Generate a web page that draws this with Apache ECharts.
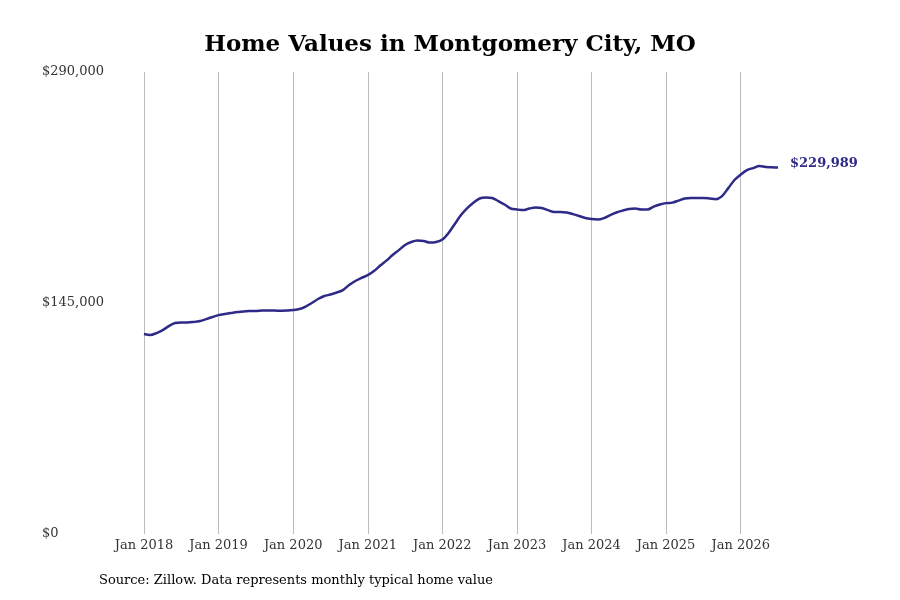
<!DOCTYPE html>
<html>
<head>
<meta charset="utf-8">
<script src="https://cdn.jsdelivr.net/npm/echarts@6/dist/echarts.min.js"></script>
<style>body{margin:0;background:#fff}#c{width:900px;height:600px}</style>
</head>
<body>
<div id="c"></div>
<script>
// monthly typical home value, Jan 2018 .. Jul 2026 (thousands)
let values = [
  125.5,124.9,126.1,128.0,130.5,132.4,132.7,132.7,133.1,133.7,134.9,136.2,
  137.4,138.1,138.7,139.3,139.6,140.0,140.0,140.3,140.3,140.3,140.1,140.3,
  140.6,141.2,142.8,145.0,147.5,149.4,150.3,151.6,153.1,156.3,158.8,160.7,
  162.5,165.1,168.5,171.6,175.1,178.2,181.4,183.3,184.2,183.9,182.9,183.3,
  184.8,188.9,194.6,200.2,204.6,208.0,210.6,211.2,210.9,209.0,206.8,204.3,
  203.7,203.3,204.3,204.9,204.6,203.3,202.1,202.1,201.8,200.8,199.6,198.3,
  197.7,197.4,198.3,200.2,201.8,203.0,204.0,204.3,203.7,203.7,205.5,206.8,
  207.7,208.0,209.3,210.6,210.9,210.9,210.9,210.6,210.2,212.1,217.1,222.2,
  225.6,228.4,229.7,231.0,230.4,230.2,229.989
].map(v=>v*1000);
let monthNames = ['Jan','Feb','Mar','Apr','May','Jun','Jul','Aug','Sep','Oct','Nov','Dec'];
let months = values.map((v,i)=>monthNames[i%12] + ' ' + (2018 + Math.floor(i/12)));
let yTicks = [0,145000,290000];

let font = '"DejaVu Serif",serif';
let chart = echarts.init(document.getElementById('c'));
chart.setOption({
  animation:false,
  textStyle:{fontFamily:font},
  title:{
    text:'Home Values in Montgomery City, MO',
    left:'center',top:29,
    textStyle:{fontFamily:font,fontSize:23,fontWeight:'bold',color:'#000'}
  },
  graphic:[{
    type:'text',left:99,top:574,
    style:{text:'Source: Zillow. Data represents monthly typical home value',
      font:'13px '+font,fill:'#000'}
  }],
  grid:{left:144,right:122,top:72,bottom:66},
  xAxis:{
    type:'category',data:months,boundaryGap:false,
    axisLine:{show:false},axisTick:{show:false},
    axisLabel:{interval:(i)=>i%12===0,formatter:v=>v,color:'#333',fontSize:13,margin:5},
    splitLine:{show:true,interval:(i)=>i%12===0,lineStyle:{color:'#bbb',width:1}}
  },
  yAxis:{
    type:'value',min:0,max:290000,interval:145000,
    splitLine:{show:false},axisLine:{show:false},axisTick:{show:false},
    axisLabel:{align:'left',margin:102,color:'#333',fontSize:13,
      formatter:v=>yTicks.includes(v)?'$'+v.toLocaleString('en-US'):''}
  },
  series:[{
    type:'line',data:values,showSymbol:false,smooth:0.3,
    lineStyle:{color:'#2e2a87',width:2.5},
    endLabel:{show:true,distance:12,offset:[0,-4],color:'#2e2a87',fontSize:13,fontWeight:'bold',
      fontFamily:font,formatter:p=>'$'+Math.round(p.value).toLocaleString('en-US')}
  }]
});
</script>
</body>
</html>
